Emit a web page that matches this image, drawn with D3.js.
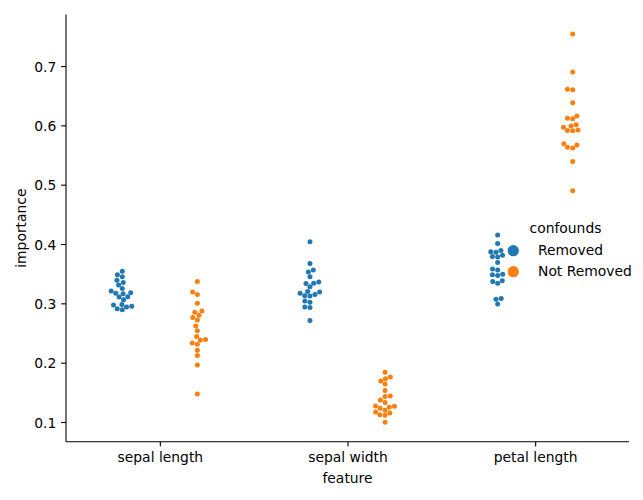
<!DOCTYPE html>
<html>
<head>
<meta charset="utf-8">
<script src="https://cdn.jsdelivr.net/npm/d3@7"></script>
<style>
  html, body { margin: 0; padding: 0; background: #fff; }
  svg { display: block; font-family: "DejaVu Sans", sans-serif; }
</style>
</head>
<body>
<svg id="chart" width="643" height="500"></svg>
<script>
// ---- data ----
const features = ["sepal length", "sepal width", "petal length"];
const hues = ["Removed", "Not Removed"];
const hueColors = ["#1f77b4", "#ff7f0e"];
const yTicks = [0.1, 0.2, 0.3, 0.4, 0.5, 0.6, 0.7];

const sepalLengthRemoved = [0.354, 0.348, 0.345, 0.339, 0.335, 0.331, 0.325, 0.317, 0.316, 0.318,
                            0.321, 0.311, 0.3105, 0.306, 0.298, 0.297, 0.294, 0.295, 0.291, 0.289];
const sepalLengthNotRemoved = [0.337, 0.319, 0.315, 0.300, 0.285, 0.287, 0.280, 0.276, 0.272, 0.262,
                               0.254, 0.244, 0.239, 0.238, 0.233, 0.231, 0.221, 0.212, 0.196, 0.147];
const sepalWidthRemoved = [0.404, 0.367, 0.356, 0.353, 0.345, 0.336, 0.334, 0.3335, 0.328, 0.317,
                           0.319, 0.320, 0.313, 0.3125, 0.315, 0.304, 0.302, 0.294, 0.293, 0.271];
const sepalWidthNotRemoved = [0.184, 0.176, 0.173, 0.169, 0.164, 0.153, 0.143, 0.144, 0.137, 0.133,
                              0.127, 0.1265, 0.125, 0.123, 0.120, 0.117, 0.115, 0.112, 0.1115, 0.0995];
const petalLengthRemoved = [0.415, 0.401, 0.389, 0.387, 0.386, 0.381, 0.379, 0.378, 0.369, 0.358,
                            0.356, 0.349, 0.348, 0.347, 0.338, 0.337, 0.334, 0.308, 0.307, 0.299];
const petalLengthNotRemoved = [0.754, 0.690, 0.661, 0.660, 0.638, 0.616, 0.612, 0.611, 0.601, 0.597,
                               0.599, 0.592, 0.591, 0.5915, 0.569, 0.567, 0.563, 0.562, 0.539, 0.490];

const groups = [
  { feature: "sepal length", hue: "Removed", values: sepalLengthRemoved },
  { feature: "sepal length", hue: "Not Removed", values: sepalLengthNotRemoved },
  { feature: "sepal width", hue: "Removed", values: sepalWidthRemoved },
  { feature: "sepal width", hue: "Not Removed", values: sepalWidthNotRemoved },
  { feature: "petal length", hue: "Removed", values: petalLengthRemoved },
  { feature: "petal length", hue: "Not Removed", values: petalLengthNotRemoved }
];

// ---- layout ----
const svg = d3.select("#chart");
const mLeft = 66, mRight = 629, mTop = 14.6, mBottom = 441.7;
const fontSize = 13.89;
const tickLen = 4.86;

const allVals = groups.flatMap(g => g.values);
const [vmin, vmax] = d3.extent(allVals);
const pad = (vmax - vmin) * 0.05;

const x = d3.scalePoint().domain(features).range([mLeft, mRight]).padding(0.5);
const y = d3.scaleLinear().domain([vmin - pad, vmax + pad]).range([mBottom, mTop]);
const hueScale = d3.scaleOrdinal().domain(hues).range(hueColors);
const step = x.step();
const dodge = d3.scalePoint().domain(hues).range([-0.2 * step, 0.2 * step]);

const R = 2.5;

// seaborn-like beeswarm
function beeswarm(values, cx, r) {
  const pts = values.map(v => ({ v, x: cx, y: y(v) })).sort((a, b) => a.v - b.v);
  const swarm = [];
  for (const p of pts) {
    const neighbors = [];
    for (let j = swarm.length - 1; j >= 0; j--) {
      if (Math.abs(p.y - swarm[j].y) < 2 * r) neighbors.push(swarm[j]);
      else break;
    }
    neighbors.reverse();
    const cands = [cx];
    let leftFirst = true;
    for (const q of neighbors) {
      const dy = p.y - q.y;
      const dx = Math.sqrt(Math.max(4 * r * r - dy * dy, 0)) * 1.05;
      const cl = q.x - dx, cr = q.x + dx;
      if (leftFirst) cands.push(cl, cr); else cands.push(cr, cl);
      leftFirst = !leftFirst;
    }
    const sorted = cands.map((c, i) => ({ c, i }))
      .sort((a, b) => Math.abs(a.c - cx) - Math.abs(b.c - cx) || a.i - b.i);
    let chosen = cx;
    for (const { c } of sorted) {
      let ok = true;
      for (const q of neighbors) {
        const ddx = q.x - c, ddy = q.y - p.y;
        if (ddx * ddx + ddy * ddy < 4 * r * r - 1e-9) { ok = false; break; }
      }
      if (ok) { chosen = c; break; }
    }
    p.x = chosen;
    swarm.push(p);
  }
  return swarm;
}

// points
const gPts = svg.append("g");
groups.forEach(g => {
  const cx = x(g.feature) + dodge(g.hue);
  const pts = beeswarm(g.values, cx, R);
  gPts.selectAll(null).data(pts).enter().append("circle")
    .attr("cx", d => d.x).attr("cy", d => d.y).attr("r", R)
    .attr("fill", hueScale(g.hue));
});

// axes
const yAxis = d3.axisLeft(y).tickValues(yTicks).tickFormat(d3.format(".1f")).tickSize(tickLen).tickPadding(4.86);
const gy = svg.append("g").attr("transform", `translate(${mLeft},0)`).call(yAxis);
gy.select(".domain").attr("d", `M0,${mTop}V${mBottom}`);
const xAxis = d3.axisBottom(x).tickSize(tickLen).tickPadding(4.86);
const gx = svg.append("g").attr("transform", `translate(0,${mBottom})`).call(xAxis);
gx.select(".domain").attr("d", `M${mLeft},0H${mRight}`);

[gx, gy].forEach(g => {
  g.select(".domain").attr("stroke", "#000").attr("stroke-width", 1.1).attr("fill", "none");
  g.selectAll(".tick line").attr("stroke", "#000").attr("stroke-width", 1.1);
  g.selectAll(".tick text").attr("fill", "#000").style("font-size", fontSize + "px")
    .style("font-family", "DejaVu Sans");
});
gy.selectAll(".tick text").attr("dy", "0.36em");
gx.selectAll(".tick text").attr("dy", "0.76em");

// axis labels
svg.append("text").attr("x", (mLeft + mRight) / 2).attr("y", 483)
  .attr("text-anchor", "middle").style("font-size", fontSize + "px").text("feature");
svg.append("text").attr("transform", `translate(25.5,${(mTop + mBottom) / 2}) rotate(-90)`)
  .attr("text-anchor", "middle").style("font-size", fontSize + "px").text("importance");

// legend
const lg = svg.append("g");
lg.append("text").attr("x", 565.5).attr("y", 233).attr("text-anchor", "middle")
  .style("font-size", fontSize + "px").text("confounds");
hues.forEach((h, i) => {
  const cy = 250.7 + i * 21;
  lg.append("circle").attr("cx", 513.3).attr("cy", cy).attr("r", 5.6).attr("fill", hueScale(h));
  lg.append("text").attr("x", 538).attr("y", cy + 3.8)
    .style("font-size", fontSize + "px").text(h);
});
</script>
</body>
</html>
